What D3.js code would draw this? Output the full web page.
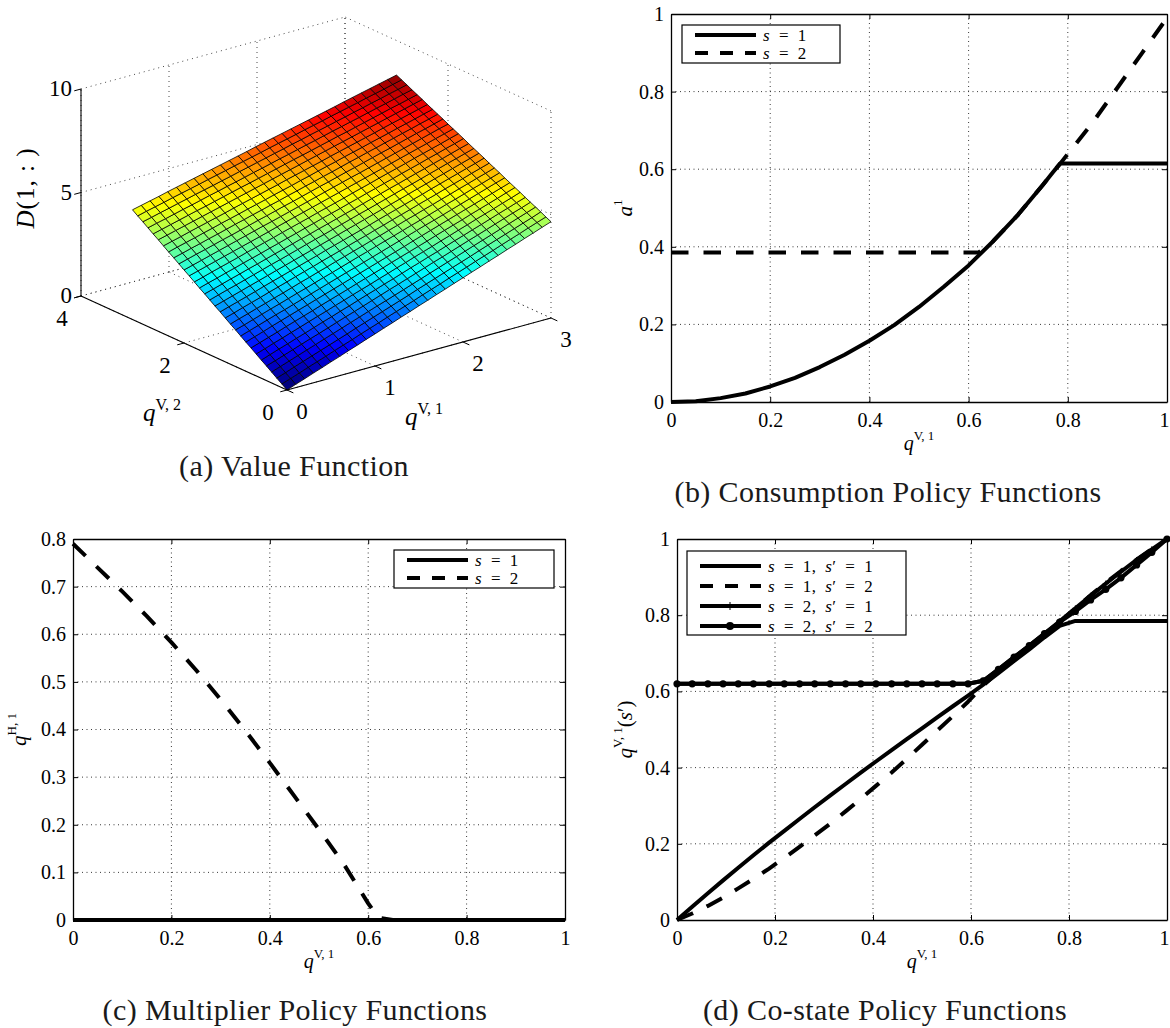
<!DOCTYPE html>
<html>
<head>
<meta charset="utf-8">
<script src="https://cdn.jsdelivr.net/npm/d3@7"></script>
<style>
body { margin: 0; background: #fff; }
</style>
</head>
<body>
<div class="canvas"></div>
<script>
// ---- data ----
const xTicks = [0, 0.2, 0.4, 0.6, 0.8, 1];
const consYTicks = [0, 0.2, 0.4, 0.6, 0.8, 1];
const multYTicks = [0, 0.1, 0.2, 0.3, 0.4, 0.5, 0.6, 0.7, 0.8];
const costateYTicks = [0, 0.2, 0.4, 0.6, 0.8, 1];
const q1Ticks = [0, 1, 2, 3];
const q2Ticks = [0, 2, 4];
const zTicks = [0, 5, 10];

// (b) consumption policy a^1
const consX = [0, .05, .1, .15, .2, .25, .3, .35, .4, .45, .5, .55, .6, .65, .7, .75, .77, .785, .85, .9, .95, 1];
const consS1 = [0, .002, .01, .022, .04, .062, .09, .122, .158, .198, .245, .297, .352, .415, .483, .56, .592, .615, .615, .615, .615, .615];
const consS2X = [0, .1, .2, .3, .4, .5, .6, .62, .65, .7, .75, .77, .785, .85, .9, .95, 1];
const consS2 = [.385, .385, .385, .385, .385, .385, .385, .385, .415, .483, .56, .592, .615, .72, .81, .9, .99];

// (c) multiplier policy q^{H,1}
const multX = [0, .05, .1, .15, .2, .25, .3, .35, .4, .45, .5, .55, .6, .62, .65, .7, .8, .9, 1];
const multS1 = [0, 0, 0, 0, 0, 0, 0, 0, 0, 0, 0, 0, 0, 0, 0, 0, 0, 0, 0];
const multS2 = [.79, .74, .69, .638, .583, .525, .463, .398, .33, .26, .19, .118, .035, .005, 0, 0, 0, 0, 0];

// (d) co-state policy q^{V,1}(s')
const costateX = [0, .031, .063, .094, .125, .156, .188, .219, .25, .281, .313, .344, .375, .406, .438, .469, .5,
  .531, .563, .594, .625, .656, .688, .719, .75, .781, .813, .844, .875, .906, .938, .969, 1];
const costateS11 = [0, .035, .07, .104, .137, .17, .203, .234, .265, .296, .327, .357, .387, .416, .446, .475, .503,
  .532, .561, .589, .618, .648, .68, .71, .742, .772, .785, .785, .785, .785, .785, .785, .785];
const costateS12 = [0, .017, .037, .059, .083, .108, .135, .163, .192, .222, .253, .285, .318, .352, .387, .423, .46,
  .497, .535, .573, .615, .652, .686, .718, .75, .782, .818, .852, .885, .916, .946, .974, 1];
const costateS21 = [.62, .62, .62, .62, .62, .62, .62, .62, .62, .62, .62, .62, .62, .62, .62, .62, .62,
  .62, .62, .62, .628, .658, .69, .72, .752, .784, .818, .851, .883, .914, .945, .973, 1];
const costateS22 = [.62, .62, .62, .62, .62, .62, .62, .62, .62, .62, .62, .62, .62, .62, .62, .62, .62,
  .62, .62, .62, .628, .658, .69, .72, .752, .782, .81, .84, .868, .898, .932, .965, 1];

// (a) value function D(1,:) on the q^{V,1} x q^{V,2} grid (rows: q^{V,2}, columns: q^{V,1})
const q1Grid = [0, .1, .2, .3, .4, .5, .6, .7, .8, .9, 1, 1.1, 1.2, 1.3, 1.4, 1.5, 1.6, 1.7, 1.8, 1.9, 2, 2.1, 2.2, 2.3, 2.4, 2.5, 2.6, 2.7, 2.8, 2.9, 3];
const q2Grid = [0, .1, .2, .3, .4, .5, .6, .7, .8, .9, 1, 1.1, 1.2, 1.3, 1.4, 1.5, 1.6, 1.7, 1.8, 1.9, 2, 2.1, 2.2, 2.3, 2.4, 2.5, 2.6, 2.7, 2.8, 2.9, 3];
const valueRows = [
  [0,.16,.31,.47,.62,.78,.93,1.09,1.24,1.4,1.55,1.71,1.86,2.02,2.17,2.33,2.48,2.64,2.79,2.95,3.1,3.26,3.41,3.57,3.72,3.88,4.03,4.19,4.34,4.5,4.65],
  [.18,.33,.48,.64,.79,.94,1.1,1.25,1.4,1.56,1.71,1.86,2.02,2.17,2.32,2.47,2.63,2.78,2.93,3.09,3.24,3.39,3.55,3.7,3.85,4.01,4.16,4.31,4.47,4.62,4.77],
  [.35,.5,.66,.81,.96,1.11,1.26,1.41,1.56,1.72,1.87,2.02,2.17,2.32,2.47,2.62,2.78,2.93,3.08,3.23,3.38,3.53,3.68,3.84,3.99,4.14,4.29,4.44,4.59,4.74,4.9],
  [.53,.68,.83,.98,1.13,1.28,1.43,1.58,1.73,1.88,2.03,2.18,2.33,2.47,2.62,2.77,2.92,3.07,3.22,3.37,3.52,3.67,3.82,3.97,4.12,4.27,4.42,4.57,4.72,4.87,5.02],
  [.71,.85,1,1.15,1.3,1.45,1.59,1.74,1.89,2.04,2.18,2.33,2.48,2.63,2.78,2.92,3.07,3.22,3.37,3.52,3.66,3.81,3.96,4.11,4.25,4.4,4.55,4.7,4.85,4.99,5.14],
  [.88,1.03,1.18,1.32,1.47,1.61,1.76,1.91,2.05,2.2,2.34,2.49,2.64,2.78,2.93,3.07,3.22,3.37,3.51,3.66,3.8,3.95,4.1,4.24,4.39,4.53,4.68,4.83,4.97,5.12,5.26],
  [1.06,1.2,1.35,1.49,1.64,1.78,1.93,2.07,2.21,2.36,2.5,2.65,2.79,2.93,3.08,3.22,3.37,3.51,3.66,3.8,3.94,4.09,4.23,4.38,4.52,4.67,4.81,4.95,5.1,5.24,5.39],
  [1.24,1.38,1.52,1.66,1.81,1.95,2.09,2.23,2.38,2.52,2.66,2.8,2.95,3.09,3.23,3.37,3.52,3.66,3.8,3.94,4.08,4.23,4.37,4.51,4.65,4.8,4.94,5.08,5.22,5.37,5.51],
  [1.41,1.55,1.69,1.84,1.98,2.12,2.26,2.4,2.54,2.68,2.82,2.96,3.1,3.24,3.38,3.52,3.66,3.8,3.94,4.09,4.23,4.37,4.51,4.65,4.79,4.93,5.07,5.21,5.35,5.49,5.63],
  [1.59,1.73,1.87,2.01,2.15,2.28,2.42,2.56,2.7,2.84,2.98,3.12,3.26,3.39,3.53,3.67,3.81,3.95,4.09,4.23,4.37,4.51,4.64,4.78,4.92,5.06,5.2,5.34,5.48,5.62,5.75],
  [1.77,1.9,2.04,2.18,2.32,2.45,2.59,2.73,2.86,3,3.14,3.27,3.41,3.55,3.69,3.82,3.96,4.1,4.23,4.37,4.51,4.64,4.78,4.92,5.06,5.19,5.33,5.47,5.6,5.74,5.88],
  [1.94,2.08,2.21,2.35,2.48,2.62,2.75,2.89,3.03,3.16,3.3,3.43,3.57,3.7,3.84,3.97,4.11,4.24,4.38,4.51,4.65,4.78,4.92,5.05,5.19,5.32,5.46,5.59,5.73,5.86,6],
  [2.12,2.25,2.39,2.52,2.65,2.79,2.92,3.05,3.19,3.32,3.45,3.59,3.72,3.85,3.99,4.12,4.25,4.39,4.52,4.66,4.79,4.92,5.06,5.19,5.32,5.46,5.59,5.72,5.86,5.99,6.12],
  [2.3,2.43,2.56,2.69,2.82,2.96,3.09,3.22,3.35,3.48,3.61,3.74,3.88,4.01,4.14,4.27,4.4,4.53,4.67,4.8,4.93,5.06,5.19,5.32,5.46,5.59,5.72,5.85,5.98,6.11,6.25],
  [2.47,2.6,2.73,2.86,2.99,3.12,3.25,3.38,3.51,3.64,3.77,3.9,4.03,4.16,4.29,4.42,4.55,4.68,4.81,4.94,5.07,5.2,5.33,5.46,5.59,5.72,5.85,5.98,6.11,6.24,6.37],
  [2.65,2.78,2.91,3.03,3.16,3.29,3.42,3.55,3.67,3.8,3.93,4.06,4.19,4.31,4.44,4.57,4.7,4.83,4.95,5.08,5.21,5.34,5.47,5.59,5.72,5.85,5.98,6.11,6.23,6.36,6.49],
  [2.83,2.95,3.08,3.21,3.33,3.46,3.58,3.71,3.84,3.96,4.09,4.22,4.34,4.47,4.59,4.72,4.85,4.97,5.1,5.23,5.35,5.48,5.6,5.73,5.86,5.98,6.11,6.23,6.36,6.49,6.61],
  [3,3.13,3.25,3.38,3.5,3.63,3.75,3.87,4,4.12,4.25,4.37,4.5,4.62,4.75,4.87,4.99,5.12,5.24,5.37,5.49,5.62,5.74,5.87,5.99,6.11,6.24,6.36,6.49,6.61,6.74],
  [3.18,3.3,3.43,3.55,3.67,3.79,3.92,4.04,4.16,4.28,4.41,4.53,4.65,4.77,4.9,5.02,5.14,5.26,5.39,5.51,5.63,5.76,5.88,6,6.12,6.25,6.37,6.49,6.61,6.74,6.86],
  [3.36,3.48,3.6,3.72,3.84,3.96,4.08,4.2,4.32,4.44,4.57,4.69,4.81,4.93,5.05,5.17,5.29,5.41,5.53,5.65,5.77,5.89,6.01,6.14,6.26,6.38,6.5,6.62,6.74,6.86,6.98],
  [3.53,3.65,3.77,3.89,4.01,4.13,4.25,4.37,4.49,4.61,4.72,4.84,4.96,5.08,5.2,5.32,5.44,5.56,5.68,5.8,5.91,6.03,6.15,6.27,6.39,6.51,6.63,6.75,6.87,6.99,7.1],
  [3.71,3.83,3.95,4.06,4.18,4.3,4.41,4.53,4.65,4.77,4.88,5,5.12,5.23,5.35,5.47,5.59,5.7,5.82,5.94,6.05,6.17,6.29,6.41,6.52,6.64,6.76,6.88,6.99,7.11,7.23],
  [3.89,4,4.12,4.23,4.35,4.46,4.58,4.7,4.81,4.93,5.04,5.16,5.27,5.39,5.5,5.62,5.73,5.85,5.96,6.08,6.2,6.31,6.43,6.54,6.66,6.77,6.89,7,7.12,7.23,7.35],
  [4.06,4.18,4.29,4.4,4.52,4.63,4.75,4.86,4.97,5.09,5.2,5.31,5.43,5.54,5.65,5.77,5.88,6,6.11,6.22,6.34,6.45,6.56,6.68,6.79,6.9,7.02,7.13,7.24,7.36,7.47],
  [4.24,4.35,4.46,4.58,4.69,4.8,4.91,5.02,5.14,5.25,5.36,5.47,5.58,5.69,5.81,5.92,6.03,6.14,6.25,6.37,6.48,6.59,6.7,6.81,6.92,7.04,7.15,7.26,7.37,7.48,7.59],
  [4.42,4.53,4.64,4.75,4.86,4.97,5.08,5.19,5.3,5.41,5.52,5.63,5.74,5.85,5.96,6.07,6.18,6.29,6.4,6.51,6.62,6.73,6.84,6.95,7.06,7.17,7.28,7.39,7.5,7.61,7.72],
  [4.59,4.7,4.81,4.92,5.03,5.14,5.24,5.35,5.46,5.57,5.68,5.78,5.89,6,6.11,6.22,6.33,6.43,6.54,6.65,6.76,6.87,6.97,7.08,7.19,7.3,7.41,7.52,7.62,7.73,7.84],
  [4.77,4.88,4.98,5.09,5.2,5.3,5.41,5.52,5.62,5.73,5.83,5.94,6.05,6.15,6.26,6.37,6.47,6.58,6.69,6.79,6.9,7.01,7.11,7.22,7.32,7.43,7.54,7.64,7.75,7.86,7.96],
  [4.95,5.05,5.16,5.26,5.37,5.47,5.58,5.68,5.78,5.89,5.99,6.1,6.2,6.31,6.41,6.52,6.62,6.73,6.83,6.94,7.04,7.14,7.25,7.35,7.46,7.56,7.67,7.77,7.88,7.98,8.09],
  [5.12,5.23,5.33,5.43,5.54,5.64,5.74,5.84,5.95,6.05,6.15,6.26,6.36,6.46,6.56,6.67,6.77,6.87,6.97,7.08,7.18,7.28,7.39,7.49,7.59,7.69,7.8,7.9,8,8.11,8.21],
  [5.3,5.4,5.5,5.6,5.71,5.81,5.91,6.01,6.11,6.21,6.31,6.41,6.51,6.61,6.72,6.82,6.92,7.02,7.12,7.22,7.32,7.42,7.52,7.62,7.73,7.83,7.93,8.03,8.13,8.23,8.33]
];

const serif = '"Liberation Serif", "Times New Roman", serif';

const canvas = d3.select(".canvas");
const svg = canvas.append('svg')
    .attr('width', 1170)
    .attr('height', 1028)
    .attr('font-family', serif);

svg.append('rect').attr('width', 1170).attr('height', 1028).attr('fill', '#fff');

function rich(text, parts) {
    parts.forEach(p => {
        const t = text.append('tspan').text(p.t);
        if (p.i) t.attr('font-style', 'italic');
        if (p.size) t.attr('font-size', p.size);
        if (p.dy) t.attr('dy', p.dy);
    });
    return text;
}

function caption(x, y, str) {
    svg.append('text').attr('x', x).attr('y', y)
        .attr('text-anchor', 'middle').attr('font-size', 30)
        .attr('letter-spacing', 0.4).attr('fill', '#1a1a1a').text(str);
}

// ---------- (a) 3-D surface ----------
const ox = 287, oy = 390;
const q1X = d3.scaleLinear().domain([0, 3]).range([0, 264]);
const q1Y = d3.scaleLinear().domain([0, 3]).range([0, -72]);
const q2X = d3.scaleLinear().domain([0, 4]).range([0, -206]);
const q2Y = d3.scaleLinear().domain([0, 4]).range([0, -94]);
const zY = d3.scaleLinear().domain([0, 10]).range([0, -207]);

function proj(a, b, c) {
    return [ox + q1X(a) + q2X(b), oy + q1Y(a) + q2Y(b) + zY(c)];
}

function jet(t) {
    const f = v => Math.max(0, Math.min(1, 1.5 - Math.abs(4 * t - v))) * 255;
    return d3.rgb(f(3), f(2), f(1));
}
const allValues = valueRows.flat();
const surfColor = d3.scaleSequential(jet).domain([d3.min(allValues), d3.max(allValues)]);

const a3 = svg.append('g');
const gridLines = [];
q1Ticks.forEach(v => gridLines.push([proj(v, 4, 0), proj(v, 4, 10)], [proj(v, 0, 0), proj(v, 4, 0)]));
q2Ticks.forEach(v => gridLines.push([proj(3, v, 0), proj(3, v, 10)], [proj(0, v, 0), proj(3, v, 0)]));
zTicks.forEach(v => gridLines.push([proj(0, 4, v), proj(3, 4, v)], [proj(3, 0, v), proj(3, 4, v)]));

a3.append('g').selectAll('line').data(gridLines).join('line')
    .attr('x1', d => d[0][0]).attr('y1', d => d[0][1])
    .attr('x2', d => d[1][0]).attr('y2', d => d[1][1])
    .attr('stroke', '#333').attr('stroke-width', 0.9).attr('stroke-dasharray', '1,4');

const faces = [];
for (let j = 0; j < q2Grid.length - 1; j++) {
    for (let i = 0; i < q1Grid.length - 1; i++) faces.push({ i, j });
}
a3.append('g').selectAll('path').data(faces).join('path')
    .attr('d', f => 'M' + [
        proj(q1Grid[f.i], q2Grid[f.j], valueRows[f.j][f.i]),
        proj(q1Grid[f.i + 1], q2Grid[f.j], valueRows[f.j][f.i + 1]),
        proj(q1Grid[f.i + 1], q2Grid[f.j + 1], valueRows[f.j + 1][f.i + 1]),
        proj(q1Grid[f.i], q2Grid[f.j + 1], valueRows[f.j + 1][f.i])
    ].join('L') + 'Z')
    .attr('fill', f => surfColor(valueRows[f.j][f.i]))
    .attr('stroke', '#000').attr('stroke-width', 0.8).attr('stroke-linejoin', 'round');

// front axes
const axisLines = [
    [proj(0, 4, 0), proj(0, 4, 10)],
    [proj(0, 4, 0), proj(0, 0, 0)],
    [proj(0, 0, 0), proj(3, 0, 0)]
];
a3.append('g').selectAll('line').data(axisLines).join('line')
    .attr('x1', d => d[0][0]).attr('y1', d => d[0][1])
    .attr('x2', d => d[1][0]).attr('y2', d => d[1][1])
    .attr('stroke', '#000').attr('stroke-width', 1.1);

function unit(p, o) {
    const l = Math.hypot(p[0] - o[0], p[1] - o[1]);
    return [(p[0] - o[0]) / l, (p[1] - o[1]) / l];
}
const u1 = unit(proj(1, 0, 0), proj(0, 0, 0));
const u2 = unit(proj(0, 1, 0), proj(0, 0, 0));
const tickLen = 7;
const ticks3 = [];
q1Ticks.forEach(v => { const p = proj(v, 0, 0); ticks3.push([p, [p[0] - u2[0] * tickLen, p[1] - u2[1] * tickLen]]); });
q2Ticks.forEach(v => { const p = proj(0, v, 0); ticks3.push([p, [p[0] - u1[0] * tickLen, p[1] - u1[1] * tickLen]]); });
zTicks.forEach(v => { const p = proj(0, 4, v); ticks3.push([p, [p[0] - u1[0] * tickLen, p[1] - u1[1] * tickLen]]); });
a3.append('g').selectAll('line').data(ticks3).join('line')
    .attr('x1', d => d[0][0]).attr('y1', d => d[0][1])
    .attr('x2', d => d[1][0]).attr('y2', d => d[1][1])
    .attr('stroke', '#000').attr('stroke-width', 1);

a3.append('g').selectAll('text').data(q1Ticks).join('text')
    .attr('x', d => proj(d, 0, 0)[0] + 15).attr('y', d => proj(d, 0, 0)[1] + 29)
    .attr('text-anchor', 'middle').attr('font-size', 23).text(d => d);
a3.append('g').selectAll('text').data(q2Ticks).join('text')
    .attr('x', d => proj(0, d, 0)[0] - 19).attr('y', d => proj(0, d, 0)[1] + 30)
    .attr('text-anchor', 'middle').attr('font-size', 23).text(d => d);
a3.append('g').selectAll('text').data(zTicks).join('text')
    .attr('x', d => proj(0, 4, d)[0] - 9).attr('y', d => proj(0, 4, d)[1] + 7)
    .attr('text-anchor', 'end').attr('font-size', 23).text(d => d);

rich(a3.append('text').attr('transform', 'translate(34,188) rotate(-90)')
    .attr('text-anchor', 'middle').attr('font-size', 25).attr('letter-spacing', 1),
    [{ t: 'D', i: true }, { t: '(1, : )' }]);
rich(a3.append('text').attr('x', 143).attr('y', 421).attr('font-size', 25),
    [{ t: 'q', i: true }, { t: 'V, 2', size: 16, dy: -11 }]);
rich(a3.append('text').attr('x', 405).attr('y', 425).attr('font-size', 25),
    [{ t: 'q', i: true }, { t: 'V, 1', size: 16, dy: -11 }]);

caption(294, 476, '(a) Value Function');

// ---------- 2-D panels ----------
function fmt(d) {
    return (d === 0 || d === 1) ? String(d) : d3.format('.1f')(d);
}

function drawPanel(p) {
    const g = svg.append('g');
    const x = d3.scaleLinear().domain([0, 1]).range([p.left, p.right]);
    const y = d3.scaleLinear().domain(p.yDomain).range([p.bottom, p.top]);

    g.append('g').selectAll('line').data(xTicks.slice(1, -1)).join('line')
        .attr('x1', d => x(d)).attr('x2', d => x(d))
        .attr('y1', p.top).attr('y2', p.bottom)
        .attr('stroke', '#222').attr('stroke-width', 0.9).attr('stroke-dasharray', '1,3.5');
    g.append('g').selectAll('line').data(p.yTicks.slice(1, -1)).join('line')
        .attr('y1', d => y(d)).attr('y2', d => y(d))
        .attr('x1', p.left).attr('x2', p.right)
        .attr('stroke', '#222').attr('stroke-width', 0.9).attr('stroke-dasharray', '1,3.5');

    const axes = [
        [d3.axisBottom(x).tickValues(xTicks).tickFormat(fmt).tickPadding(11), `translate(0,${p.bottom})`],
        [d3.axisTop(x).tickValues(xTicks).tickFormat(''), `translate(0,${p.top})`],
        [d3.axisLeft(y).tickValues(p.yTicks).tickFormat(fmt).tickPadding(7), `translate(${p.left},0)`],
        [d3.axisRight(y).tickValues(p.yTicks).tickFormat(''), `translate(${p.right},0)`]
    ];
    axes.forEach(([ax, tr], k) => {
        const a = g.append('g').attr('transform', tr)
            .call(ax.tickSizeInner(-5).tickSizeOuter(0));
        a.attr('font-family', serif).attr('font-size', 20);
        a.selectAll('path').attr('stroke', '#000').attr('stroke-width', 1.3);
        a.selectAll('line').attr('stroke', '#000');
        a.selectAll('text').attr('fill', '#000');
        // keep the right-most x label inside the picture
        if (k === 0) a.selectAll('text').filter(d => d === 1).attr('dx', p.right > 1160 ? -3 : 0);
    });

    const line = d3.line().x(d => x(d[0])).y(d => y(d[1]));
    p.series.forEach(s => {
        const pts = s.x.map((v, i) => [v, s.y[i]]);
        g.append('path').datum(pts).attr('d', line)
            .attr('fill', 'none').attr('stroke', '#000').attr('stroke-width', 4)
            .attr('stroke-linejoin', 'round')
            .attr('stroke-dasharray', s.dash ? '17.5,15' : null);
        if (s.marker === 'dot') {
            g.append('g').selectAll('circle').data(pts).join('circle')
                .attr('cx', d => x(d[0])).attr('cy', d => y(d[1])).attr('r', 3.6).attr('fill', '#000');
        }
        if (s.marker === 'plus') {
            g.append('g').selectAll('path').data(pts).join('path')
                .attr('d', d => `M${x(d[0]) - 3},${y(d[1])}h6M${x(d[0])},${y(d[1]) - 3}v6`)
                .attr('stroke', '#000').attr('stroke-width', 1);
        }
    });

    // legend
    const L = p.legend;
    const lg = g.append('g');
    lg.append('rect').attr('x', L.x).attr('y', L.y).attr('width', L.w).attr('height', L.h)
        .attr('fill', '#fff').attr('stroke', '#000').attr('stroke-width', 1.2);
    p.series.forEach((s, k) => {
        const ry = L.y + L.rows[k];
        lg.append('line').attr('x1', L.x + 13).attr('x2', L.x + 74).attr('y1', ry).attr('y2', ry)
            .attr('stroke', '#000').attr('stroke-width', 4)
            .attr('stroke-dasharray', s.dash ? '13,12' : null);
        if (s.marker === 'dot') lg.append('circle').attr('cx', L.x + 43).attr('cy', ry).attr('r', 4).attr('fill', '#000');
        if (s.marker === 'plus') lg.append('path').attr('d', `M${L.x + 43},${ry - 4}v8`).attr('stroke', '#000').attr('stroke-width', 1);
        rich(lg.append('text').attr('x', L.x + 81).attr('y', ry + 5.5).attr('font-size', 17)
            .attr('letter-spacing', 0.5).attr('word-spacing', 4), s.label);
    });

    // axis labels
    rich(g.append('text').attr('x', (p.left + p.right) / 2).attr('y', p.bottom + 48)
        .attr('text-anchor', 'middle').attr('font-size', 20),
        [{ t: 'q', i: true }, { t: 'V, 1', size: 13, dy: -10 }]);
    rich(g.append('text').attr('transform', `translate(${p.ylabelX},${(p.top + p.bottom) / 2}) rotate(-90)`)
        .attr('text-anchor', 'middle').attr('font-size', 21), p.ylabel);

    caption(p.capX, p.capY, p.caption);
}

const s1 = [{ t: 's', i: true }, { t: ' = 1' }];
const s2 = [{ t: 's', i: true }, { t: ' = 2' }];

drawPanel({
    left: 671, right: 1167, top: 14, bottom: 402, yDomain: [0, 1], yTicks: consYTicks,
    series: [
        { x: consX, y: consS1, label: s1 },
        { x: consS2X, y: consS2, dash: true, label: s2 }
    ],
    legend: { x: 682, y: 25, w: 158, h: 38, rows: [10, 28] },
    ylabelX: 632, ylabel: [{ t: 'a', i: true }, { t: '1', size: 13, dy: -10 }],
    capX: 888, capY: 502, caption: '(b) Consumption Policy Functions'
});

drawPanel({
    left: 73, right: 565, top: 539, bottom: 920, yDomain: [0, 0.8], yTicks: multYTicks,
    series: [
        { x: multX, y: multS1, label: s1 },
        { x: multX, y: multS2, dash: true, label: s2 }
    ],
    legend: { x: 394, y: 550, w: 160, h: 38, rows: [10, 28] },
    ylabelX: 26, ylabel: [{ t: 'q', i: true }, { t: 'H, 1', size: 13, dy: -10 }],
    capX: 295, capY: 1020, caption: '(c) Multiplier Policy Functions'
});

drawPanel({
    left: 677, right: 1167, top: 539, bottom: 920, yDomain: [0, 1], yTicks: costateYTicks,
    series: [
        { x: costateX, y: costateS11, label: [{ t: 's', i: true }, { t: ' = 1, ' }, { t: 's', i: true }, { t: '′ = 1' }] },
        { x: costateX, y: costateS12, dash: true, label: [{ t: 's', i: true }, { t: ' = 1, ' }, { t: 's', i: true }, { t: '′ = 2' }] },
        { x: costateX, y: costateS21, marker: 'plus', label: [{ t: 's', i: true }, { t: ' = 2, ' }, { t: 's', i: true }, { t: '′ = 1' }] },
        { x: costateX, y: costateS22, marker: 'dot', label: [{ t: 's', i: true }, { t: ' = 2, ' }, { t: 's', i: true }, { t: '′ = 2' }] }
    ],
    legend: { x: 687, y: 551, w: 219, h: 84, rows: [15, 35, 55, 75] },
    ylabelX: 632,
    ylabel: [{ t: 'q', i: true }, { t: 'V, 1', size: 13, dy: -10 }, { t: '(', dy: 10 }, { t: 's', i: true }, { t: '′)' }],
    capX: 885, capY: 1020, caption: '(d) Co-state Policy Functions'
});
</script>
</body>
</html>
